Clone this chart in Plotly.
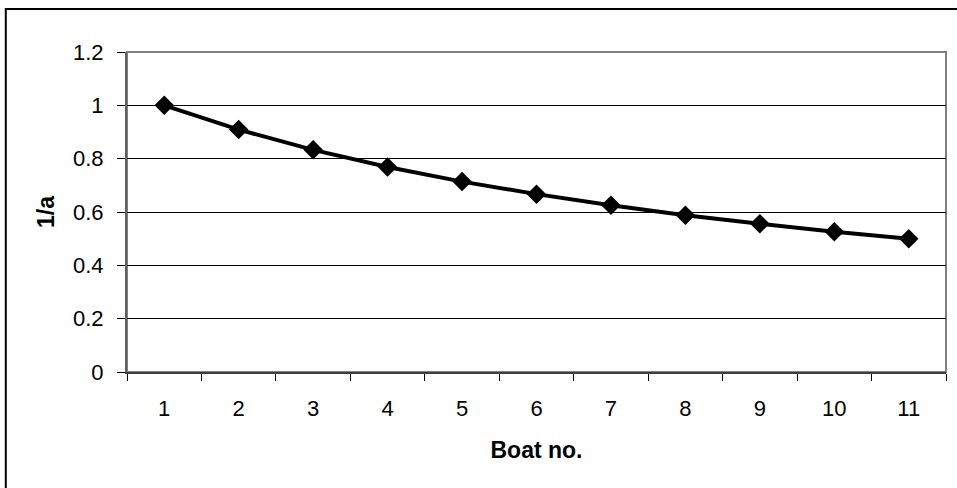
import plotly.graph_objects as go

# Boat number vs reciprocal of a
boats = ["1", "2", "3", "4", "5", "6", "7", "8", "9", "10", "11"]
inv_a = [1.0, 0.909, 0.833, 0.769, 0.714, 0.667, 0.625, 0.588, 0.556, 0.526, 0.5]
y_ticks = [0, 0.2, 0.4, 0.6, 0.8, 1.0, 1.2]
y_tick_text = ["0", "0.2", "0.4", "0.6", "0.8", "1", "1.2"]

FONT = "Liberation Sans, Arial, sans-serif"
TICK_FONT = dict(family=FONT, size=22, color="black")
TITLE_FONT = dict(family=FONT, size=23, color="black")

fig = go.Figure(
    go.Scatter(
        x=boats,
        y=inv_a,
        mode="lines+markers",
        line=dict(color="black", width=4),
        marker=dict(symbol="diamond", size=15, color="black"),
        cliponaxis=False,
    )
)

fig.update_layout(
    width=957,
    height=488,
    margin=dict(l=127, r=11, t=52, b=116, autoexpand=False),
    paper_bgcolor="white",
    plot_bgcolor="white",
    showlegend=False,
    font=dict(family=FONT, size=22, color="black"),
    xaxis=dict(
        type="category",
        range=[-0.5, 10.5],
        tickson="boundaries",
        ticks="outside",
        ticklen=7,
        tickcolor="black",
        tickwidth=1,
        tickfont=TICK_FONT,
        ticklabelstandoff=16,
        showline=True,
        linecolor="#404040",
        linewidth=2,
        showgrid=False,
        zeroline=False,
        title=dict(text="<b>Boat no.</b>", standoff=21, font=TITLE_FONT),
        automargin=False,
    ),
    yaxis=dict(
        range=[0, 1.2],
        tickvals=y_ticks,
        ticktext=y_tick_text,
        ticks="outside",
        ticklen=8,
        tickcolor="black",
        tickwidth=1,
        tickfont=TICK_FONT,
        ticklabelstandoff=9,
        showline=True,
        linecolor="#606060",
        linewidth=2,
        showgrid=True,
        gridcolor="black",
        gridwidth=1,
        zeroline=False,
        title=dict(text="<b>1/a</b>", standoff=12, font=TITLE_FONT),
        automargin=False,
    ),
    shapes=[
        # gray frame around the plotting area
        dict(type="rect", xref="paper", yref="paper", x0=0, x1=1, y0=0, y1=1,
             line=dict(color="#808080", width=2), layer="below"),
        # outer chart border
        dict(type="rect", xref="paper", yref="paper", x0=-0.148, x1=1.1, y0=-0.5, y1=1.134,
             line=dict(color="black", width=2)),
    ],
)

fig.write_html("out.html")
